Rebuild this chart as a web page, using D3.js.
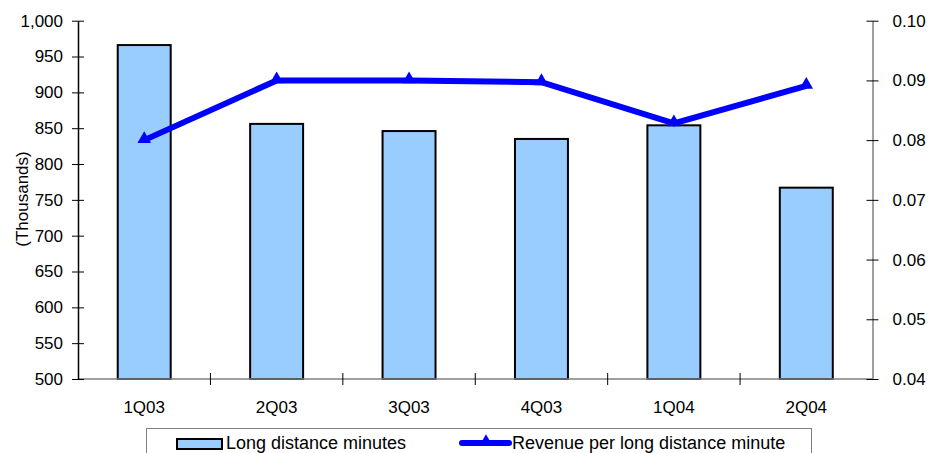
<!DOCTYPE html>
<html>
<head>
<meta charset="utf-8">
<script src="https://cdn.jsdelivr.net/npm/d3@7"></script>
<style>
  html, body { margin: 0; padding: 0; background: #fff; }
  svg { display: block; font-family: "Liberation Sans", Arial, sans-serif; }
</style>
</head>
<body>
<svg id="chart" width="930" height="453"></svg>
<script>
// Quarterly long distance volume (thousands of minutes) and revenue per minute
const quarters = ["1Q03", "2Q03", "3Q03", "4Q03", "1Q04", "2Q04"];
const minutes = [966, 856, 846, 835, 854, 767];
const revenuePerMinute = [0.0800, 0.0900, 0.0900, 0.0897, 0.0828, 0.0891];
const leftTicks = [500, 550, 600, 650, 700, 750, 800, 850, 900, 950, 1000];
const rightTicks = [0.04, 0.05, 0.06, 0.07, 0.08, 0.09, 0.10];
const seriesNames = ["Long distance minutes", "Revenue per long distance minute"];

const svg = d3.select("#chart");
const plot = { left: 78, right: 872.5, top: 20.7, bottom: 379 };

const x = d3.scaleBand().domain(quarters).range([plot.left, plot.right]).paddingInner(0.6).paddingOuter(0.3);
const xBounds = d3.scaleLinear().domain([0, quarters.length]).range([plot.left, plot.right]);
const yLeft = d3.scaleLinear().domain([500, 1000]).range([plot.bottom, plot.top]);
const yRight = d3.scaleLinear().domain([0.04, 0.10]).range([plot.bottom, plot.top]);

const fontSize = 17;
const legendFontSize = 18;

// Bars
svg.append("g").selectAll("rect")
  .data(minutes)
  .join("rect")
  .attr("x", (d, i) => x(quarters[i]))
  .attr("y", d => yLeft(d))
  .attr("width", x.bandwidth())
  .attr("height", d => yLeft(500) - yLeft(d))
  .attr("fill", "#99CCFF")
  .attr("stroke", "#000")
  .attr("stroke-width", 2);

// Bottom axis line with ticks at category boundaries
const gx = svg.append("g");
gx.append("line")
  .attr("x1", plot.left).attr("x2", plot.right)
  .attr("y1", plot.bottom).attr("y2", plot.bottom)
  .attr("stroke", "#808080").attr("stroke-width", 1.5);
gx.selectAll("line.tick")
  .data(d3.range(1, quarters.length))
  .join("line")
  .attr("class", "tick")
  .attr("x1", d => xBounds(d)).attr("x2", d => xBounds(d))
  .attr("y1", plot.bottom - 6).attr("y2", plot.bottom + 6)
  .attr("stroke", "#000").attr("stroke-width", 1);
gx.selectAll("text")
  .data(quarters)
  .join("text")
  .attr("x", d => x(d) + x.bandwidth() / 2)
  .attr("y", 407)
  .attr("dy", "0.35em")
  .attr("text-anchor", "middle")
  .attr("font-size", fontSize)
  .text(d => d);

// Left axis
const axisL = d3.axisLeft(yLeft).tickValues(leftTicks).tickSizeInner(6).tickSizeOuter(0).tickPadding(9)
  .tickFormat(d3.format(","));
const gl = svg.append("g").attr("transform", `translate(${plot.left},0)`).call(axisL);
gl.select(".domain").attr("stroke", "#000").attr("stroke-width", 1.5);
gl.selectAll(".tick line").attr("x1", 6).attr("x2", -6).attr("stroke", "#000");
gl.selectAll(".tick text").attr("font-size", fontSize).attr("font-family", "Liberation Sans, Arial, sans-serif").attr("fill", "#000");

// Right axis
const axisR = d3.axisRight(yRight).tickValues(rightTicks).tickSizeInner(6).tickSizeOuter(0).tickPadding(14)
  .tickFormat(d3.format(".2f"));
const gr = svg.append("g").attr("transform", `translate(${plot.right},0)`).call(axisR);
gr.select(".domain").attr("stroke", "#808080").attr("stroke-width", 1.5);
gr.selectAll(".tick line").attr("x1", -6).attr("x2", 6).attr("stroke", "#000");
gr.selectAll(".tick text").attr("font-size", fontSize).attr("font-family", "Liberation Sans, Arial, sans-serif").attr("fill", "#000");

// Left axis title
svg.append("text")
  .attr("transform", `translate(22,199) rotate(-90)`)
  .attr("text-anchor", "middle")
  .attr("dy", "0.35em")
  .attr("font-size", fontSize)
  .text("(Thousands)");

// Revenue line
const cx = (d, i) => x(quarters[i]) + x.bandwidth() / 2;
const line = d3.line().x(cx).y(d => yRight(d));
svg.append("path")
  .datum(revenuePerMinute)
  .attr("d", line)
  .attr("fill", "none")
  .attr("stroke", "#0000FF")
  .attr("stroke-width", 6)
  .attr("stroke-linejoin", "miter");

const tri = d3.symbol().type(d3.symbolTriangle).size(80);
svg.append("g").selectAll("path")
  .data(revenuePerMinute)
  .join("path")
  .attr("transform", (d, i) => `translate(${cx(d, i)},${yRight(d) - 1})`)
  .attr("d", tri)
  .attr("fill", "#0000FF");

// Legend
const lg = svg.append("g");
lg.append("rect")
  .attr("x", 146.5).attr("y", 428.5)
  .attr("width", 665).attr("height", 40)
  .attr("fill", "#fff").attr("stroke", "#808080").attr("stroke-width", 1);
lg.append("rect")
  .attr("x", 177).attr("y", 439)
  .attr("width", 45).attr("height", 10)
  .attr("fill", "#99CCFF").attr("stroke", "#000").attr("stroke-width", 2);
lg.append("text")
  .attr("x", 226).attr("y", 443).attr("dy", "0.35em")
  .attr("font-size", legendFontSize)
  .text(seriesNames[0]);
lg.append("line")
  .attr("x1", 462).attr("x2", 509)
  .attr("y1", 443).attr("y2", 443)
  .attr("stroke", "#0000FF").attr("stroke-width", 6).attr("stroke-linecap", "round");
lg.append("path")
  .attr("transform", "translate(486,442)")
  .attr("d", tri)
  .attr("fill", "#0000FF");
lg.append("text")
  .attr("x", 512).attr("y", 443).attr("dy", "0.35em")
  .attr("font-size", legendFontSize)
  .text(seriesNames[1]);
</script>
</body>
</html>
